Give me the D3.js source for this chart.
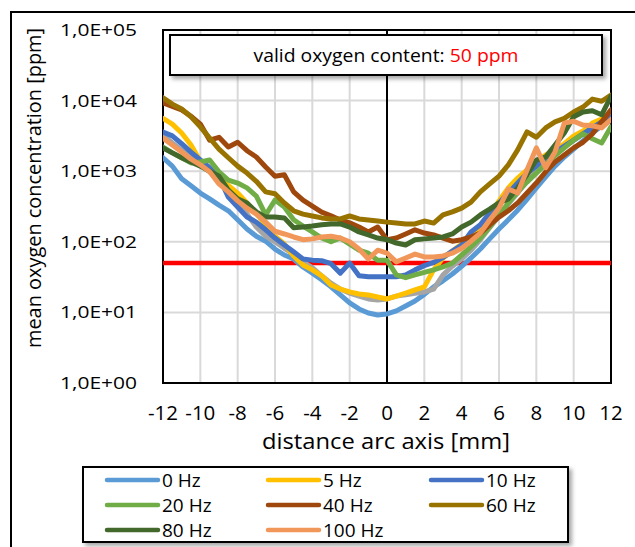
<!DOCTYPE html>
<html><head><meta charset="utf-8">
<script src="https://cdn.jsdelivr.net/npm/d3@7"></script>
<style>body{margin:0;background:#fff}svg{display:block}text{font-family:"Open Sans",Lato,sans-serif}</style>
</head><body>
<svg id="c" width="635" height="547"></svg>
<script>
const distance = [-12,-11.5,-11,-10.5,-10,-9.5,-9,-8.5,-8,-7.5,-7,-6.5,-6,-5.5,-5,-4.5,-4,-3.5,-3,-2.5,-2,-1.5,-1,-0.5,0,0.5,1,1.5,2,2.5,3,3.5,4,4.5,5,5.5,6,6.5,7,7.5,8,8.5,9,9.5,10,10.5,11,11.5,12];
const hz0 = [1550,1180,780,620,490,405,330,275,205,152,120,102,79,65,57,44,36,29,23,17.7,13.6,11.2,9.8,9.2,9.5,10.5,12.3,14.5,18,23,28,35,45,59,79,110,152,205,280,400,580,830,1180,1590,2050,2690,3470,4370,5300];
const refGrey = [3240,2510,2000,1550,1230,980,750,560,390,247,162,120,100,81,67,52,43,33,26,21.4,18.7,17,15.5,15,15.5,17,17.7,18.7,19.5,21.4,34,45,57,76,107,158,232,345,490,720,1040,1380,1740,2200,2750,3380,4100,5000,5900];
const hz5 = [5600,4650,3470,2350,1380,1040,800,630,490,355,255,173,120,93,63,47,40,33,24.5,21.4,19.5,18.2,17.7,16.5,15.5,17,18.7,20.8,23,40,59,74,93,125,162,245,380,580,800,1040,1320,1700,2000,2450,3160,3700,4800,5500,6000];
const hz10 = [3600,3160,2450,1870,1440,1120,830,430,310,224,190,148,113,90,72,57,55,54,49,36,50,33,32,32,32,32,34,40,46,51,60,74,90,138,174,257,355,490,680,940,1180,1550,1870,2270,2750,3380,4100,5000,5900];
const hz20 = [2200,1820,1550,1310,1350,1440,980,750,680,580,445,240,390,310,205,167,138,113,100,113,93,76,69,55,55,34,31,34,37,40,44,50,65,85,113,162,240,355,510,700,940,1260,1660,2140,2750,3380,2880,2510,4250];
const hz40 = [9300,8300,7400,6000,4650,2750,3020,2200,2570,1950,1590,1150,850,890,510,390,320,263,234,204,186,162,138,162,107,113,129,148,133,125,113,102,107,117,133,174,224,275,355,490,680,980,1350,1700,2140,2570,3380,5000,7400];
const hz60 = [11000,8900,7600,5900,4250,2950,2050,1550,1180,940,720,510,480,355,275,247,232,218,211,211,232,211,204,197,190,184,179,179,197,184,240,265,300,365,510,660,850,1230,2000,3600,3030,4100,5000,5600,6900,8100,10500,9800,12000];
const hz80 = [2140,1820,1550,1350,1180,1000,850,540,405,355,265,224,224,218,158,162,167,174,179,179,162,138,125,113,107,96,90,107,110,113,117,129,162,190,240,290,355,405,580,890,1440,1590,2350,3470,5900,6900,7200,6300,11500];
const hz100 = [2950,2350,1870,1480,1230,980,660,510,380,300,247,190,141,129,117,107,110,117,120,113,100,79,57,76,69,52,59,67,61,61,63,69,81,102,133,204,300,560,490,1040,2140,1120,1870,4800,5100,4500,4400,4100,5400];
const limitPpm = 50;
const yTickValues = [1,10,100,1000,10000,100000];
const xTickValues = [-12,-10,-8,-6,-4,-2,0,2,4,6,8,10,12];
const legendNames = ["0 Hz","5 Hz","10 Hz","20 Hz","40 Hz","60 Hz","80 Hz","100 Hz"];
const colors = ["#5B9BD5","#FFC000","#4472C4","#70AD47","#9E480E","#997300","#43682B","#F1975A"];

const svg = d3.select("#c");
const L=163,R=611,T=30,B=383;
const x = d3.scaleLinear().domain([-12,12]).range([L,R]);
const y = d3.scaleLog().domain([1,1e5]).range([B,T]);

const defs = svg.append("defs");
const f = defs.append("filter").attr("id","sh").attr("x","-10%").attr("y","-10%").attr("width","130%").attr("height","150%");
f.append("feDropShadow").attr("dx",3).attr("dy",3).attr("stdDeviation",2).attr("flood-color","#000").attr("flood-opacity",0.35);
defs.append("clipPath").attr("id","clip").append("rect").attr("x",L).attr("y",T).attr("width",R-L).attr("height",B-T);

svg.append("path").attr("d",`M11,547 V12 H635`).attr("fill","none").attr("stroke","#000").attr("stroke-width",2);

const g = svg.append("g");
g.selectAll(".vg").data(xTickValues).join("line").attr("x1",d=>x(d)).attr("x2",d=>x(d)).attr("y1",T).attr("y2",B).attr("stroke","#D9D9D9").attr("stroke-width",2);
g.selectAll(".hg").data(yTickValues).join("line").attr("x1",L).attr("x2",R).attr("y1",d=>y(d)).attr("y2",d=>y(d)).attr("stroke","#D9D9D9").attr("stroke-width",2);

svg.append("rect").attr("x",L).attr("y",T).attr("width",R-L).attr("height",B-T).attr("fill","none").attr("stroke","#000").attr("stroke-width",2);
svg.append("line").attr("x1",x(0)).attr("x2",x(0)).attr("y1",T).attr("y2",B).attr("stroke","#000").attr("stroke-width",2);

svg.append("line").attr("x1",L).attr("x2",R).attr("y1",y(limitPpm)).attr("y2",y(limitPpm)).attr("stroke","#FF0000").attr("stroke-width",4.5);

const line = d3.line().x((d,i)=>x(distance[i])).y(d=>y(d));
const drawOrder = [[hz0,colors[0]],[refGrey,"#A5A5A5"],[hz5,colors[1]],[hz10,colors[2]],[hz20,colors[3]],[hz40,colors[4]],[hz60,colors[5]],[hz80,colors[6]],[hz100,colors[7]]];
const sg = svg.append("g").attr("clip-path","url(#clip)");
drawOrder.forEach(([vals,col])=>{
  sg.append("path").attr("d",line(vals)).attr("fill","none").attr("stroke",col).attr("stroke-width",5).attr("stroke-linejoin","round").attr("stroke-linecap","round");
});

svg.selectAll(".yt").data(yTickValues).join("text").attr("x",137).attr("y",d=>y(d)).attr("dy","0.35em").attr("text-anchor","end").attr("font-size",17).attr("fill","#000")
  .attr("textLength",77).attr("lengthAdjust","spacingAndGlyphs")
  .text(d=>"1,0E+"+String(Math.round(Math.log10(d))).padStart(2,"0"));
svg.selectAll(".xt").data(xTickValues).join("text").attr("x",d=>x(d)).attr("y",413).attr("dy","0.35em").attr("text-anchor","middle").attr("font-size",20.5).attr("fill","#000").text(d=>d);
svg.append("text").attr("x",386).attr("y",441).attr("dy","0.35em").attr("text-anchor","middle").attr("font-size",22)
  .attr("textLength",248).attr("lengthAdjust","spacingAndGlyphs").text("distance arc axis [mm]");
svg.append("text").attr("transform","translate(34,188) rotate(-90)").attr("dy","0.35em").attr("text-anchor","middle").attr("font-size",19.5)
  .attr("textLength",320).attr("lengthAdjust","spacingAndGlyphs").text("mean oxygen concentration [ppm]");

svg.append("rect").attr("x",170).attr("y",35).attr("width",432).attr("height",40).attr("fill","#fff").attr("stroke","#000").attr("stroke-width",2).attr("filter","url(#sh)");
const ann = svg.append("text").attr("x",386).attr("y",56).attr("dy","0.35em").attr("text-anchor","middle").attr("font-size",18)
  .attr("textLength",265).attr("lengthAdjust","spacingAndGlyphs");
ann.append("tspan").text("valid oxygen content: ");
ann.append("tspan").attr("fill","#FF0000").text(limitPpm+" ppm");

svg.append("rect").attr("x",83).attr("y",467).attr("width",485).attr("height",75).attr("fill","#fff").attr("stroke","#000").attr("stroke-width",2).attr("filter","url(#sh)");
const colX=[107,268,431], rowY=[480,505,530];
legendNames.forEach((n,i)=>{
  const cx=colX[i%3], cy=rowY[Math.floor(i/3)];
  svg.append("line").attr("x1",cx).attr("x2",cx+51).attr("y1",cy).attr("y2",cy).attr("stroke",colors[i]).attr("stroke-width",4.5).attr("stroke-linecap","round");
  svg.append("text").attr("x",cx+55).attr("y",cy).attr("dy","0.35em").attr("font-size",19).text(n);
});
</script>
</body></html>
